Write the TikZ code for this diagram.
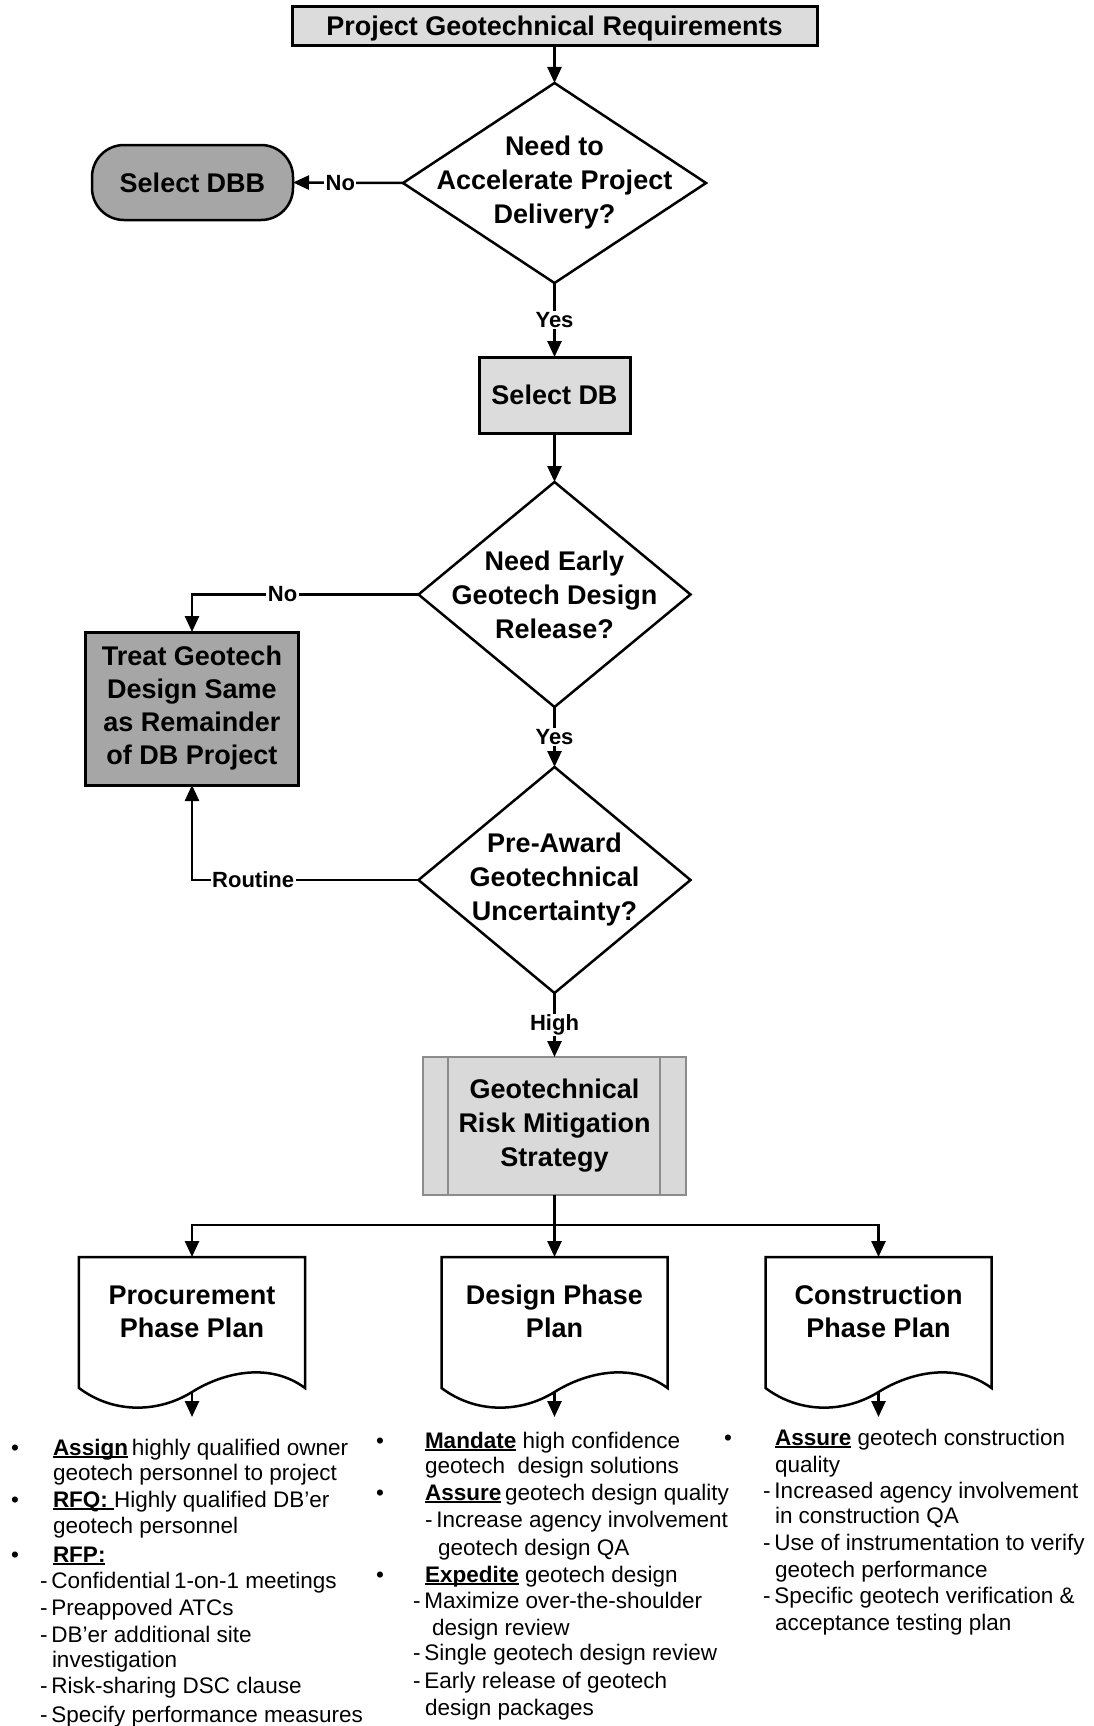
\documentclass[tikz,border=0pt]{standalone}
\usepackage{fontspec}
\setmainfont{Liberation Sans}
\usetikzlibrary{arrows.meta,shapes.geometric,calc}
\definecolor{lg}{HTML}{DCDCDC}
\definecolor{dg}{HTML}{A6A6A6}
\definecolor{rg}{HTML}{D9D9D9}
\definecolor{rb}{HTML}{8C8C8C}
\newcommand{\dsh}{-\hspace{4bp}}
\newcommand{\myul}[1]{\setbox0\hbox{#1}\rlap{\rule[-2.6bp]{\wd0}{1.4bp}}\box0\relax}
\newcommand{\docshape}[1]{%
  \draw[docl] ($(#1.south west)+(0,22)$) -- (#1.north west) -- (#1.north east) -- ($(#1.south east)+(0,22)$)
    .. controls ($(#1.south)+(78,-4)$) and ($(#1.south)+(32,6)$) .. ($(#1.south)+(0,26)$)
    .. controls ($(#1.south)+(-32,46)$) and ($(#1.south)+(-77,49)$) .. cycle;}
\begin{document}
\begin{tikzpicture}[x=1bp,y=-1bp,
  every node/.style={inner sep=0pt, outer sep=0pt},
  arr/.style={line width=2.5bp, -{Triangle[length=16bp,width=14bp]}},
  box/.style={draw, line width=3bp, fill=lg},
  ftxt/.style={font=\bfseries\fontsize{27bp}{34bp}\selectfont, align=center},
  ftxts/.style={font=\bfseries\fontsize{27bp}{33bp}\selectfont, align=center},
  dia/.style={diamond, draw, line width=2.5bp, fill=white},
  lbl/.style={fill=white, font=\bfseries\fontsize{22bp}{24bp}\selectfont, inner xsep=1.5bp, inner ysep=1bp},
  bt/.style={anchor=base west, font=\fontsize{22.5bp}{26bp}\selectfont},
  doc/.style={minimum width=226bp, minimum height=109bp},
  docl/.style={line width=2.5bp}
]
\fill[white] (0,0) rectangle (1093,1726);
\useasboundingbox (0,0) rectangle (1093,1726);

% main column
\node[box, minimum width=525bp, minimum height=38bp, ftxt, text depth=0bp] (top) at (554.5,26) {Project Geotechnical Requirements};
\node[dia, minimum width=303bp, minimum height=200bp] (d1) at (554.5,183) {};
\node[ftxt] (d1t) at (d1.center) {Need to\\Accelerate Project\\Delivery?};
\node[draw, line width=2.5bp, fill=dg, rounded corners=32bp, minimum width=201bp, minimum height=75bp, ftxt] (dbb) at (192.5,182.5) {Select DBB};
\node[box, minimum width=151bp, minimum height=76bp, ftxt] (db) at (554.5,395) {Select DB};
\node[dia, minimum width=272bp, minimum height=225bp] (d2) at (554.5,594.5) {};
\node[ftxt] (d2t) at (d2.center) {Need Early\\Geotech Design\\Release?};
\node[box, fill=dg, minimum width=213bp, minimum height=153bp, ftxts] (treat) at (192,708.5) {Treat Geotech\\Design Same\\as Remainder\\of DB Project};
\node[dia, minimum width=272bp, minimum height=226bp] (d3) at (554.5,880) {};
\node[ftxt] (d3t) at (d3.center) {Pre-Award\\Geotechnical\\Uncertainty?};
\node[draw=rb, line width=1.2bp, fill=rg, minimum width=263bp, minimum height=138bp, ftxt] (risk) at (554.5,1126) {Geotechnical\\Risk Mitigation\\Strategy};
\draw[rb, line width=1.2bp] ([xshift=25bp]risk.north west) -- ([xshift=25bp]risk.south west);
\draw[rb, line width=1.2bp] ([xshift=-26bp]risk.north east) -- ([xshift=-26bp]risk.south east);

% documents
\node[doc, ftxts] (doc1) at (192,1311.5) {Procurement\\Phase Plan};
\node[doc, ftxts] (doc2) at (554.5,1311.5) {Design Phase\\Plan};
\node[doc, ftxts] (doc3) at (878.5,1311.5) {Construction\\Phase Plan};
\docshape{doc1}
\docshape{doc2}
\docshape{doc3}
\coordinate (e1) at ($(doc1.south)+(0,51)$);
\coordinate (e2) at ($(doc2.south)+(0,51)$);
\coordinate (e3) at ($(doc3.south)+(0,51)$);
\draw[arr] ($(doc1.south)+(0,26)$) -- (e1);
\draw[arr] ($(doc2.south)+(0,26)$) -- (e2);
\draw[arr] ($(doc3.south)+(0,26)$) -- (e3);

% connectors
\draw[arr] (top.south) -- (d1.north);
\draw[arr] (d1.west) -- node[lbl, pos=0.57]{No} (dbb.east);
\draw[arr] (d1.south) -- node[lbl]{Yes} (db.north);
\draw[arr] (db.south) -- (d2.north);
\draw[arr] (d2.west) -| node[lbl, pos=0.3]{No} (treat.north);
\draw[arr] (d2.south) -- node[lbl]{Yes} (d3.north);
\draw[arr] (d3.west) -| node[lbl, pos=0.365]{Routine} (treat.south);
\draw[arr] (d3.south) -- node[lbl]{High} (risk.north);
\draw[arr] (risk.south) -- (doc2.north);
\coordinate (br) at (554.5,1225);
\draw[arr] (br) -| (doc1.north);
\draw[arr] (br) -| (doc3.north);

% procurement list
\node[bt] (pb1) at (11,1455) {•};
\node[bt] (p1) at (53,1455) {\myul{\textbf{Assign}}\,highly qualified owner};
\node[bt] (p2) at (53,1480) {geotech personnel to project};
\node[bt] (pb2) at (11,1507) {•};
\node[bt] (p3) at (53,1507) {\myul{\textbf{RFQ:\ }}Highly qualified DB’er};
\node[bt] (p4) at (53,1533) {geotech personnel};
\node[bt] (pb3) at (11,1562) {•};
\node[bt] (p5) at (53,1562) {\myul{\textbf{RFP:}}};
\node[bt] (p6) at (40,1588) {\dsh Confidential\,1-on-1 meetings};
\node[bt] (p7) at (40,1615) {\dsh Preappoved ATCs};
\node[bt] (p8) at (40,1642) {\dsh DB’er additional site};
\node[bt] (p9) at (52,1667) {investigation};
\node[bt] (p10) at (40,1693) {\dsh Risk-sharing DSC clause};
\node[bt] (p11) at (40,1722) {\dsh Specify performance measures};

% design list
\node[bt] (qb1) at (376,1448) {•};
\node[bt] (q1) at (425,1448) {\myul{\textbf{Mandate}} high confidence};
\node[bt] (q2) at (425,1473) {geotech~ design solutions};
\node[bt] (qb2) at (376,1500) {•};
\node[bt] (q3) at (425,1500) {\myul{\textbf{Assure}}\,geotech design quality};
\node[bt] (q4) at (425,1527) {\dsh Increase agency involvement};
\node[bt] (q5) at (438,1555) {geotech design QA};
\node[bt] (qb3) at (376,1582) {•};
\node[bt] (q6) at (425,1582) {\myul{\textbf{Expedite}} geotech design};
\node[bt] (q7) at (413,1608) {\dsh Maximize over-the-shoulder};
\node[bt] (q8) at (432,1635) {design review};
\node[bt] (q9) at (413,1660) {\dsh Single geotech design review};
\node[bt] (q10) at (413,1688) {\dsh Early release of geotech};
\node[bt] (q11) at (425,1715) {design packages};

% construction list
\node[bt] (cb1) at (724,1445) {•};
\node[bt] (c1) at (775,1445) {\myul{\textbf{Assure}} geotech construction};
\node[bt] (c2) at (775,1472) {quality};
\node[bt] (c3) at (763,1498) {\dsh Increased agency involvement};
\node[bt] (c4) at (775,1523) {in construction QA};
\node[bt] (c5) at (763,1550) {\dsh Use of instrumentation to verify};
\node[bt] (c6) at (775,1577) {geotech performance};
\node[bt] (c7) at (763,1603) {\dsh Specific geotech verification \&};
\node[bt] (c8) at (775,1630) {acceptance testing plan};
\end{tikzpicture}
\end{document}
